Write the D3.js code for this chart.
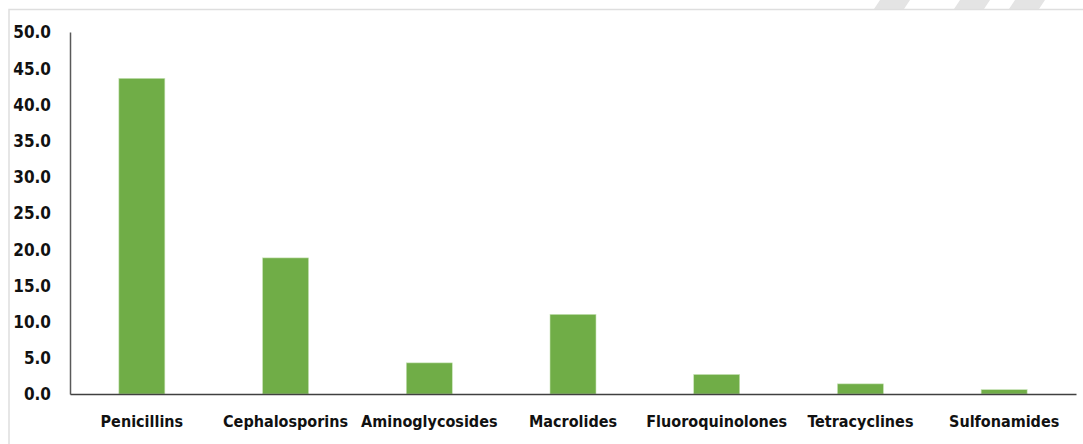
<!DOCTYPE html>
<html>
<head>
<meta charset="utf-8">
<script src="https://cdn.jsdelivr.net/npm/d3@7"></script>
<style>
  body { margin: 0; background: #fff; }
  svg text { font-family: "Liberation Sans Narrow", "DejaVu Sans Condensed", "Liberation Sans", sans-serif; font-weight: bold; fill: #111; }
</style>
</head>
<body>
<svg id="chart" width="1083" height="444"></svg>
<script>
const categories = ['Penicillins', 'Cephalosporins', 'Aminoglycosides', 'Macrolides', 'Fluoroquinolones', 'Tetracyclines', 'Sulfonamides'];
const values = [43.6, 18.8, 4.3, 11.0, 2.7, 1.4, 0.6];
const yTicks = [0, 5, 10, 15, 20, 25, 30, 35, 40, 45, 50];

const svg = d3.select('#chart');
const margin = { left: 70, right: 1076, top: 32, bottom: 394 };

// faint frame + watermark stripes from the source page
svg.append('g')
  .attr('class', 'watermark')
  .selectAll('path')
  .data([880, 960, 1015])
  .join('path')
  .attr('d', d => `M${d},0 L${d + 30},0 L${d + 24},9 L${d - 6},9 Z`)
  .attr('fill', '#e4e4e4');

svg.append('path')
  .attr('d', 'M9,444 L9,9.5 L1083,9.5')
  .attr('fill', 'none')
  .attr('stroke', '#dedede')
  .attr('stroke-width', 1.5);

const x = d3.scaleBand()
  .domain(categories)
  .range([margin.left, margin.right])
  .paddingInner(0.68)
  .paddingOuter(0.34);

const y = d3.scaleLinear()
  .domain([0, 50])
  .range([margin.bottom, margin.top]);

svg.append('g')
  .attr('class', 'bars')
  .selectAll('rect')
  .data(values)
  .join('rect')
  .attr('x', (d, i) => x(categories[i]))
  .attr('y', d => y(d))
  .attr('width', x.bandwidth())
  .attr('height', d => y(0) - y(d))
  .attr('fill', '#70ad47')
  .attr('stroke', '#c9e3b8')
  .attr('stroke-width', 0.6);

const yAxis = d3.axisLeft(y)
  .tickValues(yTicks)
  .tickFormat(d3.format('.1f'))
  .tickSize(0)
  .tickPadding(19);

svg.append('g')
  .attr('transform', `translate(${margin.left},0)`)
  .call(yAxis)
  .call(g => g.select('.domain').attr('stroke', '#595959').attr('stroke-width', 1.5))
  .call(g => g.selectAll('text').attr('font-size', 17).attr('dy', '0.35em'));

const xAxis = d3.axisBottom(x)
  .tickSize(0)
  .tickPadding(22);

svg.append('g')
  .attr('transform', `translate(0,${margin.bottom})`)
  .call(xAxis)
  .call(g => g.select('.domain').attr('stroke', '#404040').attr('stroke-width', 1.5))
  .call(g => g.selectAll('text').attr('font-size', 16));
</script>
</body>
</html>
